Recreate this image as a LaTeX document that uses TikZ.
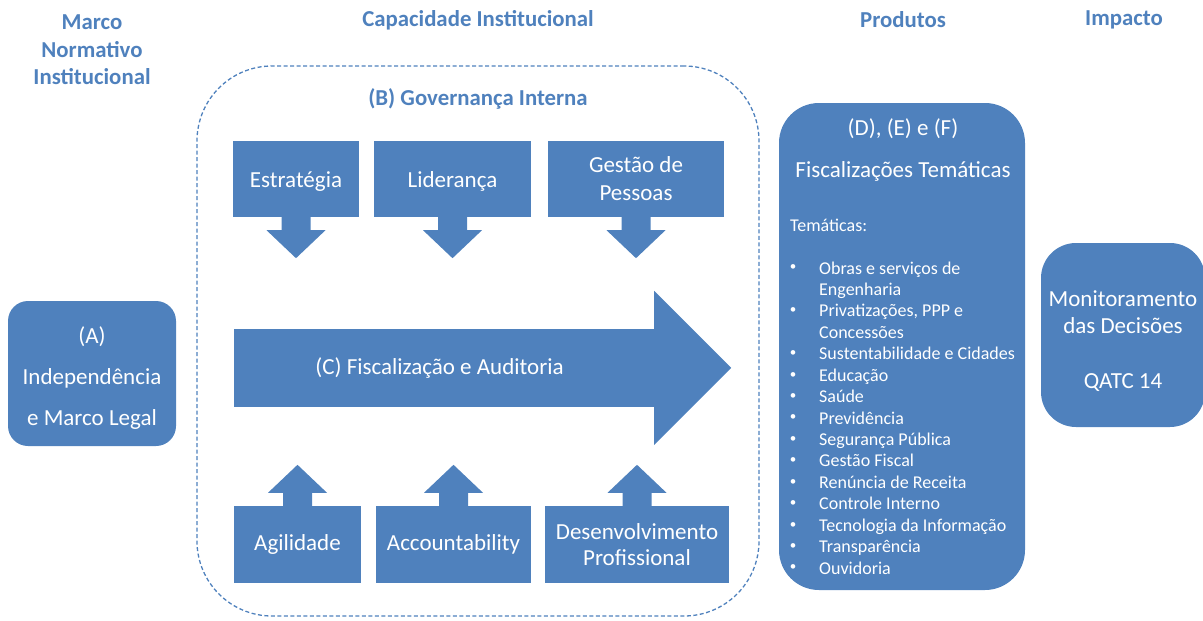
\documentclass[tikz,border=0pt]{standalone}
\usepackage{fontspec}
\setmainfont{Carlito}
\definecolor{azul}{HTML}{4F81BD}
\tikzset{
  texto/.style={text=white, inner sep=0pt, align=center, font=\fontsize{23}{28}\selectfont},
  caixa/.style={texto, fill=azul},
  titulo/.style={text=azul, align=center, font=\bfseries\fontsize{22.8}{27.5}\selectfont},
  lista/.style={text=white, inner sep=0pt, font=\fontsize{18}{21}\selectfont},
  moldura/.style={draw=azul, line width=1.3pt, dash pattern=on 4pt off 2.5pt, rounded corners=75, inner sep=0pt}
}
\begin{document}
\begin{tikzpicture}[x=1pt,y=-1pt]
\useasboundingbox (0,0) rectangle (1203,621);
% titulos
\node[titulo] (tmarco) at (92,50) {Marco\\Normativo\\Institucional};
\node[titulo] (tcap) at (478,20) {Capacidade Institucional};
\node[titulo] (tprod) at (903,20) {Produtos};
\node[titulo] (timp) at (1124,20) {Impacto};
% (A)
\node[caixa, rounded corners=20, minimum width=168, minimum height=145] (A) at (92,373.5) {};
\node[texto, font=\fontsize{23}{41}\selectfont] (tA) at (92,378.5) {(A)\\Independência\\e Marco Legal};
% (B) governanca
\node[moldura, minimum width=562, minimum height=550] (B) at (478,341) {};
\node[titulo] (tB) at (478,99) {(B) Governança Interna};
\foreach \n/\x/\w/\t/\d in {est/296/126/Estratégia/3, lid/452.5/157/Liderança/2, ges/636/176/{Gestão de\\Pessoas}/0}{
  \node[caixa, minimum width=\w, minimum height=76] (\n) at (\x,179) {};
  \node[texto] (t\n) at (\x,179+\d) {\t};
  \fill[azul] (\n.south) ++(-14.5,-1) -- ++(0,14) -- ++(-15,0) -- ++(29.5,28) -- ++(29.5,-28) -- ++(-15,0) -- ++(0,-14) -- cycle;
}
% (C)
\node[caixa, minimum width=421, minimum height=78] (C) at (444.5,368) {};
\node[texto] (tC) at (439.5,368) {(C) Fiscalização e Auditoria};
\fill[azul] ([xshift=-1pt]C.north east) -- ++(0,-38) -- ++(77,77) -- ++(-77,77) -- ++(0,-38) -- cycle;
\foreach \n/\x/\w/\t in {agi/297.5/127/Agilidade, acc/453.5/155/Accountability, des/637/184/{Desenvolvimento\\Profissional}}{
  \node[caixa, minimum width=\w, minimum height=77, font=\fontsize{23}{26}\selectfont] (\n) at (\x,544.5) {\t};
  \fill[azul] (\n.north) ++(-14.5,1) -- ++(0,-14) -- ++(-15,0) -- ++(29.5,-28) -- ++(29.5,28) -- ++(-15,0) -- ++(0,14) -- cycle;
}
% (D), (E) e (F)
\node[caixa, rounded corners=40, minimum width=246, minimum height=487] (D) at (902,346.5) {};
\node[texto] (tD) at (903,129) {(D), (E) e (F)};
\node[texto] (fD) at (903,171) {Fiscalizações Temáticas};
\node[lista, anchor=base west] (tem) at (790,231) {Temáticas:};
\foreach \t [count=\k] in {Obras e serviços de, Engenharia, {Privatizações, PPP e}, Concessões, Sustentabilidade e Cidades, Educação, Saúde, Previdência, Segurança Pública, Gestão Fiscal, Renúncia de Receita, Controle Interno, Tecnologia da Informação, Transparência, Ouvidoria}
  \node[lista, anchor=base west] (it\k) at (819,{274+21.43*(\k-1)}) {\t};
\foreach \k in {1,3,5,6,7,8,9,10,11,12,13,14,15}
  \node[lista, font=\fontsize{13}{13}\selectfont] (bl\k) at (793,{268+21.43*(\k-1)}) {•};
% impacto
\node[caixa, rounded corners=35, minimum width=164, minimum height=184] (mon) at (1123,335) {};
\node[texto, font=\fontsize{23}{27.5}\selectfont] (tmon) at (1123,341) {Monitoramento\\das Decisões\\[27pt]QATC 14};
\end{tikzpicture}
\end{document}
